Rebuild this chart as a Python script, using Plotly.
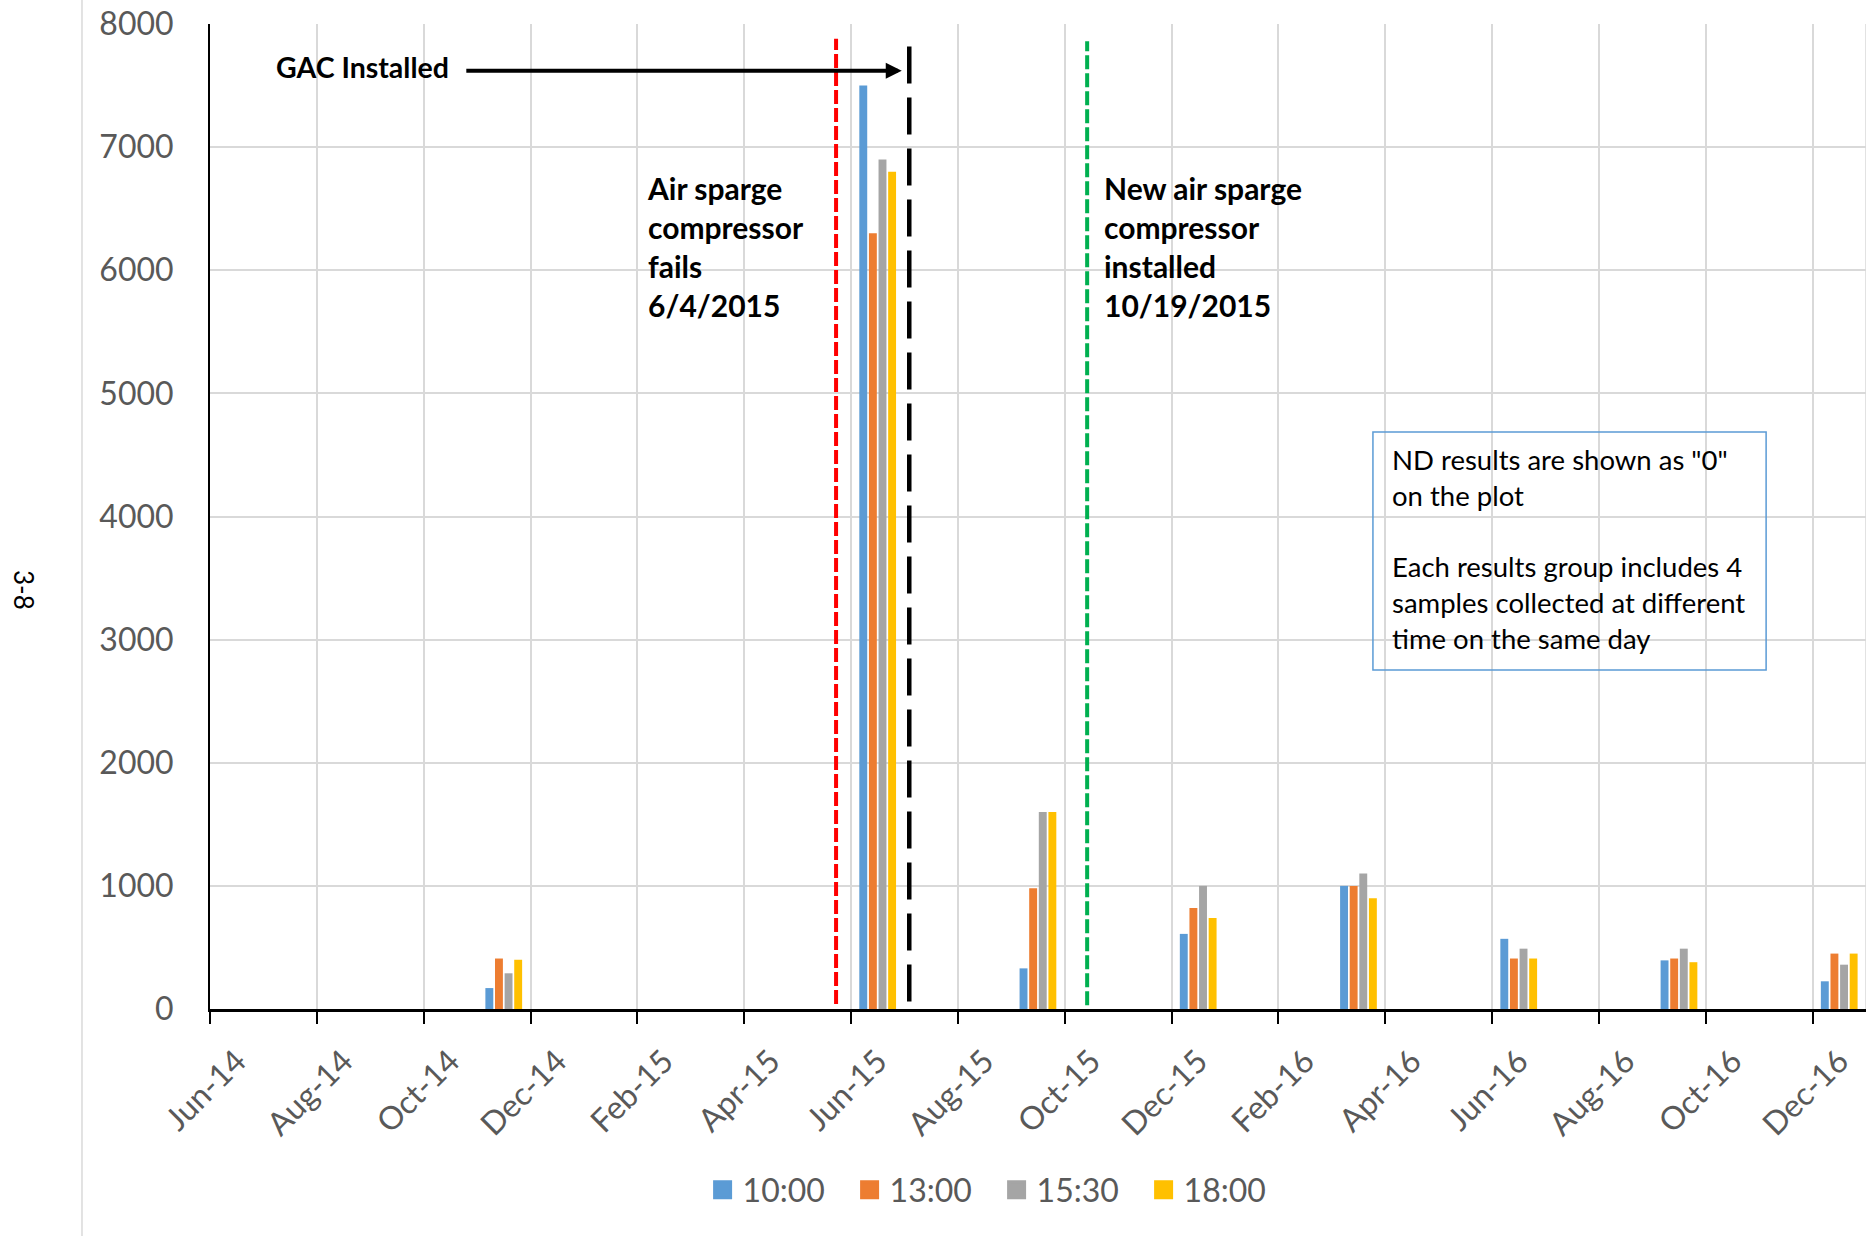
import plotly.graph_objects as go

# Sampling events (year-month) and results for the four daily sampling times
sample_months = ["2014-11", "2015-06", "2015-09", "2015-12",
                 "2016-03", "2016-06", "2016-09", "2016-12"]
sample_times = ["10:00", "13:00", "15:30", "18:00"]
conc_1000 = [170, 7500, 330, 610, 1000, 570, 395, 225]
conc_1300 = [410, 6300, 980, 820, 1000, 410, 410, 450]
conc_1530 = [290, 6900, 1600, 1000, 1100, 490, 490, 360]
conc_1800 = [400, 6800, 1600, 740, 900, 410, 380, 450]

tick_labels = ["Jun-14", "Aug-14", "Oct-14", "Dec-14", "Feb-15", "Apr-15",
               "Jun-15", "Aug-15", "Oct-15", "Dec-15", "Feb-16", "Apr-16",
               "Jun-16", "Aug-16", "Oct-16", "Dec-16"]
y_ticks = [0, 1000, 2000, 3000, 4000, 5000, 6000, 7000, 8000]

series = [conc_1000, conc_1300, conc_1530, conc_1800]
colors = ["#5B9BD5", "#ED7D31", "#A5A5A5", "#FFC000"]

FONT = "Lato, 'Open Sans', sans-serif"
GRID = "#D9D9D9"
TICK_GREY = "#595959"


def month_index(ym):
    """Months elapsed since June 2014 (the first slot on the axis)."""
    y, m = (int(v) for v in ym.split("-"))
    return (y - 2014) * 12 + (m - 6)


x_pos = [month_index(m) for m in sample_months]
n_slots = month_index("2017-01")

fig = go.Figure()

BAR_W = 0.148
BAR_PITCH = 0.18
GROUP_START = 0.155
for i, (name, vals, col) in enumerate(zip(sample_times, series, colors)):
    fig.add_trace(go.Bar(
        x=x_pos, y=vals, width=BAR_W, offset=GROUP_START + i * BAR_PITCH,
        marker=dict(color=col, line=dict(width=0)),
        name=name, legendgroup=name, showlegend=False,
    ))
    # square legend key
    fig.add_trace(go.Scatter(
        x=[None], y=[None], mode="markers", name=name, legendgroup=name,
        marker=dict(symbol="square", size=16, color=col,
                    line=dict(color=col, width=3)),
    ))

# carrier trace for the label axis
fig.add_trace(go.Scatter(x=[0, n_slots], y=[0, 0], xaxis="x2", mode="none",
                         showlegend=False, hoverinfo="skip"))

shapes = [
    # right border of plot area
    dict(type="line", xref="x", yref="y", x0=n_slots, x1=n_slots, y0=0, y1=8000,
         line=dict(color=GRID, width=1.5), layer="below"),
    # compressor fails 6/4/2015
    dict(type="line", xref="x", yref="y", x0=11.72, x1=11.72, y0=40, y1=7880,
         line=dict(color="#FF0000", width=4, dash="14px,4px")),
    # GAC installed
    dict(type="line", xref="x", yref="y", x0=13.09, x1=13.09, y0=60, y1=7870,
         line=dict(color="#000000", width=4.5, dash="37px,14px")),
    # new compressor installed 10/19/2015
    dict(type="line", xref="x", yref="y", x0=16.42, x1=16.42, y0=30, y1=7860,
         line=dict(color="#00B050", width=4, dash="14px,4px")),
    # note box
    dict(type="rect", xref="x", yref="y", x0=21.77, x1=29.13, y0=2753, y1=4686,
         line=dict(color="#5B9BD5", width=1.5), fillcolor="rgba(0,0,0,0)"),
    # page rule on the left
    dict(type="line", xref="paper", yref="paper", x0=-0.0773, x1=-0.0773,
         y0=-0.231, y1=1.025, line=dict(color=GRID, width=1.5)),
]

bold = dict(family=FONT, size=30, color="#000000")
annotations = [
    dict(x=1.2, y=7650, xref="x", yref="y", text="<b>GAC Installed</b>",
         showarrow=False, xanchor="left", yanchor="middle",
         font=dict(family=FONT, size=28.5, color="#000000")),
    dict(x=12.95, y=7620, ax=4.77, ay=7620, xref="x", yref="y",
         axref="x", ayref="y", text="", showarrow=True, arrowhead=2,
         arrowsize=0.8, arrowwidth=4, arrowcolor="#000000",
         standoff=0, startstandoff=0),
    dict(x=8.15, y=6195, xref="x", yref="y",
         text="<b>Air sparge<br>compressor<br>fails<br>6/4/2015</b>",
         showarrow=False, xanchor="left", yanchor="middle", align="left",
         font=bold),
    dict(x=16.7, y=6195, xref="x", yref="y",
         text="<b>New air sparge<br>compressor<br>installed<br>10/19/2015</b>",
         showarrow=False, xanchor="left", yanchor="middle", align="left",
         font=bold),
    dict(x=22.08, y=3740, xref="x", yref="y",
         text=("ND results are shown as \"0\"<br>on the plot<br><br>"
               "Each results group includes 4<br>samples collected at different<br>"
               "time on the same day"),
         showarrow=False, xanchor="left", yanchor="middle", align="left",
         font=dict(family=FONT, size=27.5, color="#000000")),
    dict(x=-0.1123, y=0.4254, xref="paper", yref="paper", text="3-8",
         textangle=90, showarrow=False, xanchor="center", yanchor="middle",
         font=dict(family=FONT, size=26, color="#000000")),
]

fig.update_layout(
    width=1870, height=1236,
    margin=dict(l=210, r=4, t=24, b=227, pad=0),
    paper_bgcolor="white", plot_bgcolor="white",
    barmode="overlay",
    font=dict(family=FONT, color=TICK_GREY),
    xaxis=dict(
        range=[0, n_slots], tickmode="array",
        tickvals=list(range(0, n_slots, 2)), showticklabels=False,
        ticks="outside", ticklen=12, tickwidth=2, tickcolor="#000000",
        showgrid=True, gridcolor=GRID, gridwidth=1.5,
        showline=True, linecolor="#000000", linewidth=2.5, zeroline=False,
    ),
    xaxis2=dict(
        overlaying="x", anchor="y", side="bottom", range=[0, n_slots],
        tickmode="array", tickvals=[k + 0.5 for k in range(0, n_slots, 2)],
        ticktext=tick_labels, tickangle=-45, ticks="", showgrid=False,
        showline=False, zeroline=False, ticklabelstandoff=26,
        tickfont=dict(family=FONT, size=32, color=TICK_GREY),
    ),
    yaxis=dict(
        range=[0, 8000], tickmode="array", tickvals=y_ticks,
        ticks="", showgrid=True, gridcolor=GRID, gridwidth=1.5,
        showline=True, linecolor="#000000", linewidth=2, zeroline=False,
        ticklabelstandoff=28,
        tickfont=dict(family=FONT, size=32, color=TICK_GREY),
    ),
    legend=dict(
        orientation="h", x=0.475, xanchor="center", y=-0.1838, yanchor="middle",
        font=dict(family=FONT, size=32, color=TICK_GREY),
        entrywidth=102, entrywidthmode="pixels", bgcolor="rgba(0,0,0,0)",
    ),
    shapes=shapes,
    annotations=annotations,
)

fig.write_html("out.html")
